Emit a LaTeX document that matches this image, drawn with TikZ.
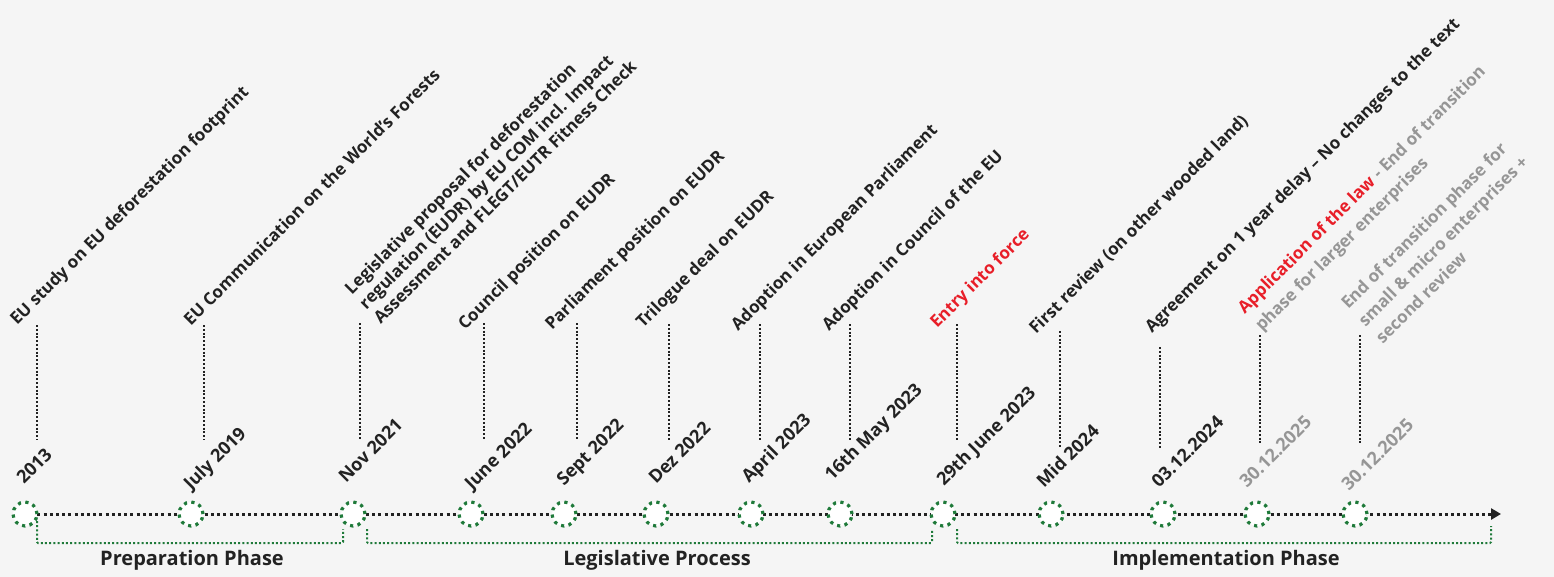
\documentclass[tikz,border=0pt]{standalone}
\usepackage{fontspec}
\setmainfont{Open Sans}
\usepackage{xcolor}
\usepackage{tikz}
\usetikzlibrary{arrows.meta,calc,backgrounds}
\definecolor{eudrGreen}{RGB}{31,122,58}
\definecolor{eudrRed}{RGB}{232,30,40}
\definecolor{eudrGray}{RGB}{150,150,150}
\definecolor{eudrInk}{RGB}{34,34,34}
\definecolor{eudrPaper}{RGB}{245,245,245}
\pgfdeclarelayer{paper}
\pgfsetlayers{paper,background,main}

\begin{document}
\begin{tikzpicture}[x=1pt,y=-1pt,
  milestone/.style={circle,draw=eudrGreen,fill=white,line width=3.2pt,
                    dash pattern=on 3.2pt off 4.4pt,minimum size=24pt,inner sep=0pt},
  axis/.style={line width=3pt,dash pattern=on 3pt off 3.2pt,color=eudrInk},
  stem/.style={line width=2pt,dash pattern=on 2pt off 1.8pt,color=eudrInk},
  bracket/.style={line width=2pt,dash pattern=on 2pt off 2.2pt,color=eudrGreen},
  event/.style={rotate=45,anchor=south west,align=left,inner sep=0pt,
                font=\fontsize{17}{20.5}\selectfont\bfseries,text=#1},
  loose/.style={font=\fontsize{17}{24.5}\selectfont\bfseries},
  tight/.style={},
  date/.style={rotate=45,anchor=base west,inner sep=0pt,
               font=\fontsize{18}{20}\selectfont\bfseries,text=#1},
  phase/.style={font=\fontsize{20}{24}\selectfont\bfseries,text=eudrInk}
]
\useasboundingbox (0,0) rectangle (1554,577);
\begin{pgfonlayer}{paper}
  \fill[eudrPaper] (0,0) rectangle (1554,577);
\end{pgfonlayer}

% Milestones on the axis
\foreach \i/\cx in {1/25,2/191,3/353,4/471,5/564,6/656,7/751,
                    8/840,9/943,10/1051,11/1163,12/1257,13/1355}
  \node[milestone] (m\i) at (\cx,514) {};
\coordinate (axisend) at (1501,514);

\begin{pgfonlayer}{background}
  \draw[axis,-{Triangle[length=10pt,width=11pt]}] (m1.center) -- (axisend);
\end{pgfonlayer}

% Dotted stems between event and date
\foreach \i/\sx/\top/\bot in {1/37/325/440,2/204/325/440,3/360/323/440,
    4/484/323/440,5/577/323/440,6/669/324/440,7/760/324/440,8/850/324/440,
    9/957/324/440,10/1060/331/447,11/1160/347/449,12/1260/335/445,13/1360/335/445}
{
  \coordinate (s\i) at (\sx,\top);
  \coordinate (b\i) at (\sx,\bot);
  \draw[stem] (s\i) -- (b\i);
}

% Dates
\foreach \i/\x/\y/\txt/\col in {1/24/485/2013/eudrInk,
    2/191/491/July 2019/eudrInk,3/346/484/Nov 2021/eudrInk,
    4/472/491/June 2022/eudrInk,5/564/487/Sept 2022/eudrInk,
    6/656/485/Dez 2022/eudrInk,7/749/484/April 2023/eudrInk,
    8/832/482/16th May 2023/eudrInk,9/944/487/29th June 2023/eudrInk,
    10/1044/489/Mid 2024/eudrInk,11/1159/489/03.12.2024/eudrInk,
    12/1247/489/30.12.2025/eudrGray,13/1349/492/30.12.2025/eudrGray}
  \node[date=\col] (d\i) at (\x,\y) {\txt};

% Events
\foreach \i/\x/\y/\txt/\col/\sp in {
  1/20/329/{EU study on EU deforestation footprint}/eudrInk/tight,
  2/191/327/{EU Communication on the World’s Forests}/eudrInk/tight,
  3/381/325/{Legislative proposal for deforestation\\regulation (EUDR) by EU COM incl. Impact\\Assessment and FLEGT/EUTR Fitness Check}/eudrInk/tight,
  4/468/334/{Council position on EUDR}/eudrInk/tight,
  5/555/334/{Parliament position on EUDR}/eudrInk/tight,
  6/646/332/{Trilogue deal on EUDR}/eudrInk/tight,
  7/741/335/{Adoption in European Parliament}/eudrInk/tight,
  8/832/335/{Adoption in Council of the EU}/eudrInk/tight,
  9/940/332/{Entry into force}/eudrRed/tight,
  10/1038/337/{First review (on other wooded land)}/eudrInk/tight,
  11/1155/337/{Agreement on 1 year delay – No changes to the text}/eudrInk/tight,
  12/1265/335/{\textcolor{eudrRed}{Application of the law} - End of transition\\phase for larger enterprises}/eudrGray/loose,
  13/1383/345/{End of transition phase for\\small \& micro enterprises +\\second review}/eudrGray/loose}
  \node[event=\col,\sp] (e\i) at (\x,\y) {\txt};

% Phase brackets
\draw[bracket,rounded corners=1pt] ($(m1)+(12,7)$) -- ($(m1)+(12,29)$)
  -| ($(m3)+(-10,15)$);
\draw[bracket,rounded corners=1pt] ($(m3)+(14,15)$) -- ($(m3)+(14,29)$)
  -| ($(m9)+(-11,15)$);
\draw[bracket,rounded corners=1pt] ($(m9)+(14,15)$) -- ($(m9)+(14,29)$)
  -| ($(axisend)+(-10,12)$);

\node[phase] (prep) at (192,560) {Preparation Phase};
\node[phase] (legis) at (657,560) {Legislative Process};
\node[phase] (impl) at (1226,560) {Implementation Phase};
\end{tikzpicture}
\end{document}
